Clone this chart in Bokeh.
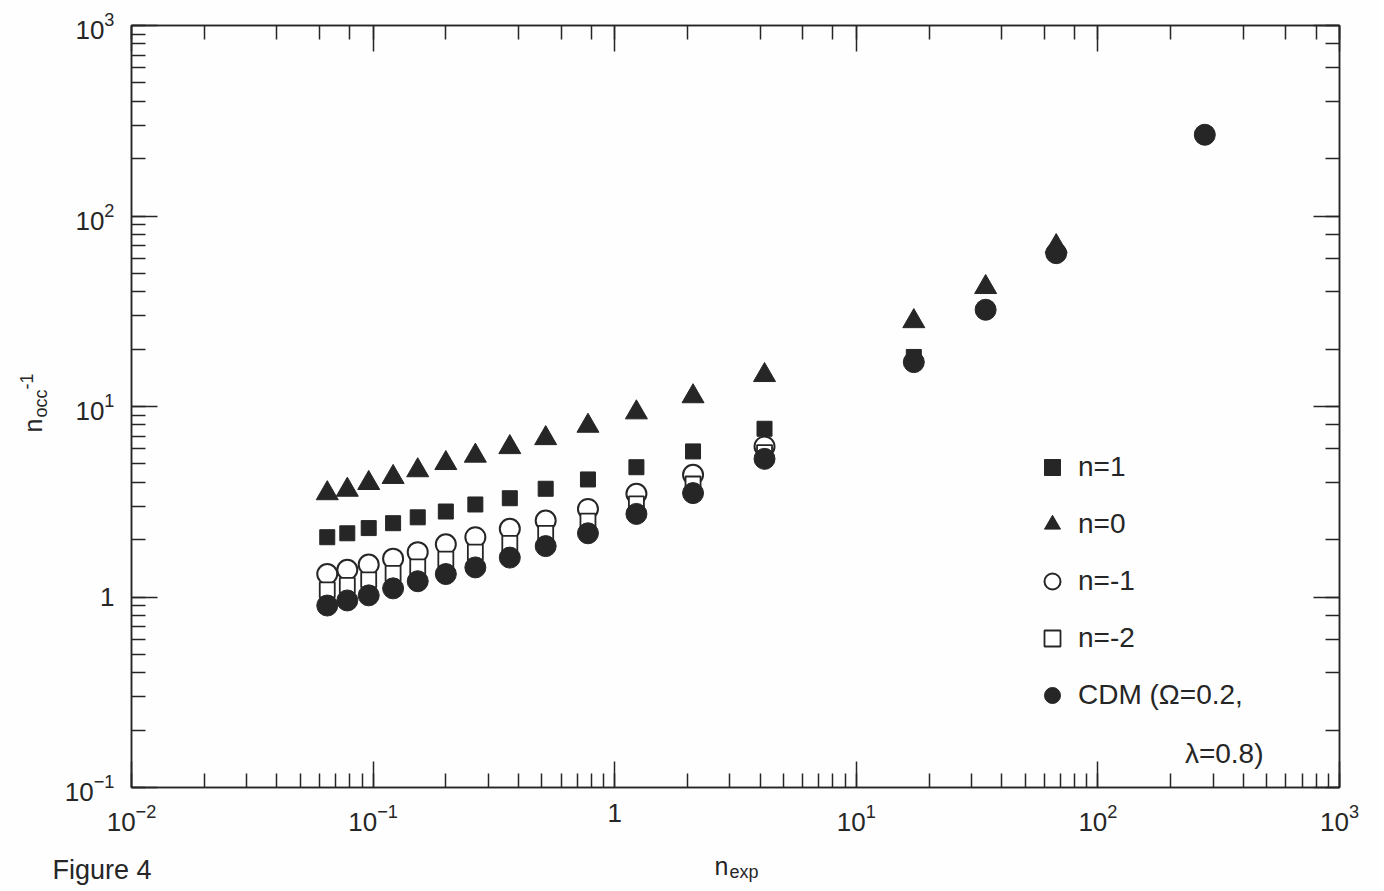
import math
from bokeh.plotting import figure
from bokeh.models import (LogAxis, LogTicker, Legend, LegendItem, Label,
                          CustomJSTickFormatter, Range1d)
from bokeh.embed import file_html
from bokeh.resources import INLINE

# ---- data ----
x_n1 = [0.0646, 0.0782, 0.0959, 0.121, 0.153, 0.200, 0.265, 0.368, 0.518, 0.775, 1.23, 2.11, 4.17, 17.3]
y_n1 = [2.06, 2.16, 2.30, 2.44, 2.62, 2.81, 3.06, 3.30, 3.70, 4.14, 4.80, 5.81, 7.64, 18.2]

x_n0 = [0.0646, 0.0782, 0.0959, 0.121, 0.153, 0.200, 0.265, 0.368, 0.518, 0.775, 1.23, 2.11, 4.17, 17.3, 34.3, 67.2]
y_n0 = [3.50, 3.65, 3.96, 4.26, 4.62, 5.04, 5.51, 6.11, 6.81, 7.91, 9.30, 11.3, 14.6, 28.0, 42.3, 69.4]

x_nm1 = [0.0646, 0.0782, 0.0959, 0.121, 0.153, 0.200, 0.265, 0.368, 0.518, 0.775, 1.23, 2.11, 4.17]
y_nm1 = [1.32, 1.39, 1.48, 1.59, 1.72, 1.89, 2.06, 2.28, 2.52, 2.90, 3.48, 4.38, 6.17]

x_nm2 = [0.0646, 0.0782, 0.0959, 0.121, 0.153, 0.200, 0.265, 0.368, 0.518, 0.775, 1.23, 2.11, 4.17]
y_nm2 = [1.09, 1.15, 1.23, 1.33, 1.44, 1.58, 1.72, 1.91, 2.16, 2.50, 3.08, 3.92, 5.73]

x_cdm = [0.0646, 0.0782, 0.0959, 0.121, 0.153, 0.200, 0.265, 0.368, 0.518, 0.775, 1.23, 2.11, 4.17, 17.3, 34.3, 67.2, 277]
y_cdm = [0.902, 0.959, 1.02, 1.11, 1.21, 1.32, 1.43, 1.61, 1.85, 2.16, 2.73, 3.51, 5.31, 17.1, 32.2, 63.8, 267]

labels = ["n=1", "n=0", "n=-1", "n=-2", "CDM (\u03a9=0.2,"]
label_cont = "\u03bb=0.8)"

INK = "#262626"
FONT = "Liberation Sans"

# frame geometry (page pixels)
FL, FT, FW, FH = 131, 25, 1208, 762
FB = FT + FH
XMIN, XMAX, YMIN, YMAX = 1e-2, 1e3, 1e-1, 1e3


def dx(px):
    """page pixel -> x data value (log scale)"""
    return XMIN * 10 ** ((px - FL) * math.log10(XMAX / XMIN) / FW)


def dy(py):
    """page pixel -> y data value (log scale)"""
    return YMIN * 10 ** ((FB - py) * math.log10(YMAX / YMIN) / FH)


p = figure(frame_width=FW, frame_height=FH,
           x_axis_type="log", y_axis_type="log",
           x_range=Range1d(XMIN, XMAX), y_range=Range1d(YMIN, YMAX),
           output_backend="svg", toolbar_location=None,
           min_border_left=FL, min_border_top=FT, min_border_right=41, min_border_bottom=103,
           background_fill_color="#fefefe", border_fill_color="#fefefe")
p.xgrid.visible = False
p.ygrid.visible = False
p.outline_line_color = INK
p.outline_line_width = 1.5


def style(ax, show_labels=True):
    ax.major_tick_in = 26
    ax.major_tick_out = 0
    ax.minor_tick_in = 14
    ax.minor_tick_out = 0
    ax.axis_line_color = INK
    ax.axis_line_width = 1.5
    ax.major_tick_line_color = INK
    ax.major_tick_line_width = 1.5
    ax.minor_tick_line_color = INK
    ax.minor_tick_line_width = 1.5
    if show_labels:
        ax.major_label_text_font = FONT
        ax.major_label_text_font_size = "26px"
        ax.major_label_text_color = INK
        ax.major_label_overrides = {1: "1"}
    else:
        ax.formatter = CustomJSTickFormatter(code="return ''")
        ax.major_label_text_font_size = "0px"
        ax.major_label_standoff = 0


for ax in p.xaxis:
    style(ax)
    ax.major_label_standoff = 16
for ax in p.yaxis:
    style(ax)
    ax.major_label_standoff = 17

top = LogAxis(ticker=LogTicker())
right = LogAxis(ticker=LogTicker())
style(top, False)
style(right, False)
p.add_layout(top, "above")
p.add_layout(right, "right")

r_n1 = p.scatter(x_n1, y_n1, marker="square", size=15, fill_color=INK, line_color=INK)
r_n0 = p.scatter(x_n0, y_n0, marker="triangle", size=22, fill_color=INK, line_color=INK)
r_nm1 = p.scatter(x_nm1, y_nm1, marker="circle", size=20, fill_color="white", line_color=INK, line_width=2)
r_nm2 = p.scatter(x_nm2, y_nm2, marker="square", size=15, fill_color="white", line_color=INK, line_width=1.8)
r_cdm = p.scatter(x_cdm, y_cdm, marker="circle", size=21, fill_color=INK, line_color=INK)

legend = Legend(items=[LegendItem(label=lab, renderers=[r]) for lab, r in
                       zip(labels, [r_n1, r_n0, r_nm1, r_nm2, r_cdm])],
                location=(901, 70), orientation="vertical")
legend.glyph_width = 40
legend.glyph_height = 44
legend.label_height = 44
legend.spacing = 13
legend.padding = 0
legend.margin = 0
legend.label_standoff = 6
legend.border_line_color = None
legend.background_fill_alpha = 0
legend.label_text_font = FONT
legend.label_text_font_size = "28px"
legend.label_text_color = INK
p.add_layout(legend)


def lab(text, px, py, size, place, angle=0.0, baseline="alphabetic", align="left"):
    p.add_layout(Label(x=dx(px), y=dy(py), text=text,
                       angle=angle, text_font=FONT, text_font_size=size,
                       text_color=INK, text_baseline=baseline, text_align=align), place)


# continuation line of the last legend entry
lab(label_cont, 1263, 753, "28px", "center", baseline="middle", align="right")

# y axis title  n_occ^-1 (rotated, reads upward)
lab("n", 32, 432, "25px", "left", angle=math.pi / 2)
lab("occ", 40, 417, "18px", "left", angle=math.pi / 2)
lab("-1", 26, 389, "18px", "right", angle=math.pi / 2)

# x axis title  n_exp
lab("n", 714, 865, "25px", "right")
lab("exp", 729, 871, "18px", "above")

# caption
lab("Figure 4", 52, 869, "27px", "below")

open("out.html", "w").write(file_html(p, INLINE))
